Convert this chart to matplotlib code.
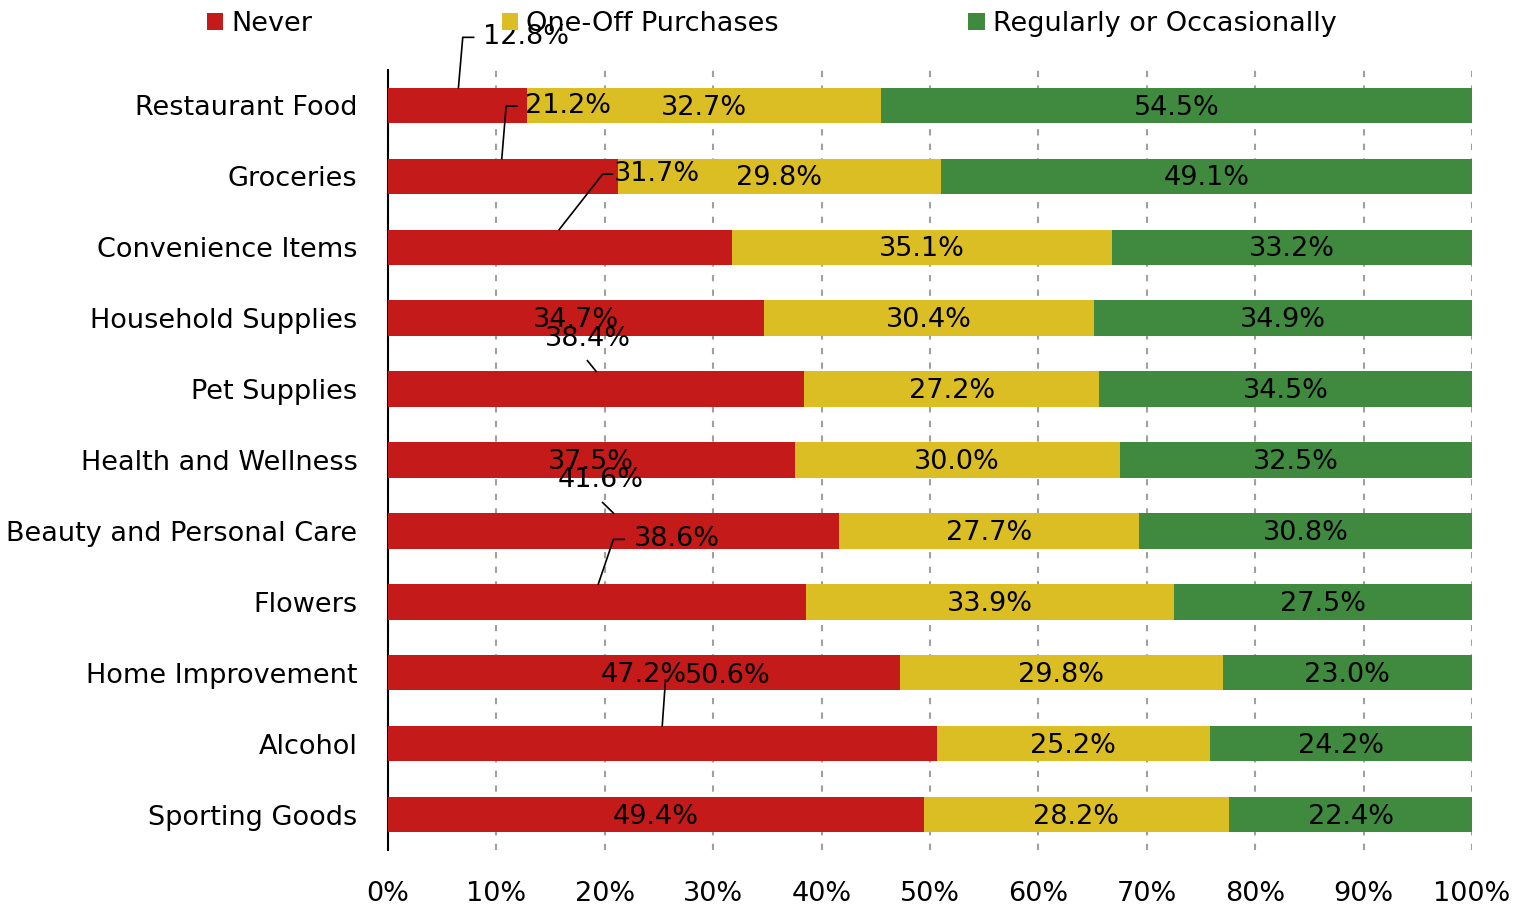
import matplotlib.pyplot as plt
import numpy as np
from matplotlib.ticker import PercentFormatter

# data
categories = ["Restaurant Food", "Groceries", "Convenience Items", "Household Supplies",
              "Pet Supplies", "Health and Wellness", "Beauty and Personal Care", "Flowers",
              "Home Improvement", "Alcohol", "Sporting Goods"]
never = [12.8, 21.2, 31.7, 34.7, 38.4, 37.5, 41.6, 38.6, 47.2, 50.6, 49.4]
one_off = [32.7, 29.8, 35.1, 30.4, 27.2, 30.0, 27.7, 33.9, 29.8, 25.2, 28.2]
regular = [54.5, 49.1, 33.2, 34.9, 34.5, 32.5, 30.8, 27.5, 23.0, 24.2, 22.4]
series_names = ["Never", "One-Off Purchases", "Regularly or Occasionally"]

colors = ["#C41A1A", "#DBBD24", "#408A40"]
fs = 19.5

plt.rcParams['font.family'] = ['DejaVu Sans']

fig = plt.figure(figsize=(15.28, 9.05), dpi=100)
ax = fig.add_axes([0.2539, 0.0608, 0.7095, 0.8619])

y = np.arange(len(categories))
never = np.array(never)
one_off = np.array(one_off)
regular = np.array(regular)

h = 0.5
b1 = ax.barh(y, never, height=h, color=colors[0], label=series_names[0], zorder=3)
b2 = ax.barh(y, one_off, left=never, height=h, color=colors[1], label=series_names[1], zorder=3)
b3 = ax.barh(y, regular, left=never + one_off, height=h, color=colors[2], label=series_names[2], zorder=3)

# centered labels for the two right series
for i in range(len(categories)):
    ax.text(never[i] + one_off[i] / 2, y[i] + 0.03, f"{one_off[i]:.1f}%", ha='center', va='center',
            fontsize=fs, zorder=5)
    ax.text(never[i] + one_off[i] + regular[i] / 2, y[i] + 0.03, f"{regular[i]:.1f}%", ha='center',
            va='center', fontsize=fs, zorder=5)

# "Never" labels: some moved off the bar with leader lines (as in the original export)
never_layout = {
    0: (8.8, -0.96, 'left', [(6.5, -0.25), (6.9, -0.96), (7.9, -0.96)]),
    1: (12.6, 0.01, 'left', [(10.5, 0.75), (10.9, 0.01), (11.9, 0.01)]),
    2: (20.8, 0.97, 'left', [(15.8, 1.75), (19.8, 0.97), (20.7, 0.97)]),
    4: (18.4, 3.3, 'center', [(19.2, 3.75), (18.4, 3.6)]),
    6: (19.6, 5.28, 'center', [(20.8, 5.75), (19.8, 5.6)]),
    7: (22.7, 6.12, 'left', [(19.4, 6.75), (20.8, 6.12), (21.8, 6.12)]),
    9: (27.4, 8.04, 'left', [(25.3, 8.75), (25.6, 8.1)]),
}
for i in range(len(categories)):
    if i in never_layout:
        lx, ly, ha, path = never_layout[i]
        ax.text(lx, ly, f"{never[i]:.1f}%", ha=ha, va='center', fontsize=fs, zorder=5,
                clip_on=False)
        px, py = zip(*path)
        ax.plot(px, py, color='black', lw=1.2, zorder=4, clip_on=False)
    else:
        ax.text(never[i] / 2, y[i] + 0.03, f"{never[i]:.1f}%", ha='center', va='center',
                fontsize=fs, zorder=5)

ax.set_xlim(0, 100)
ax.set_ylim(len(categories) - 0.5, -0.5)
ax.set_yticks(y)
ax.set_yticklabels(categories, fontsize=fs)
ax.set_xticks(np.arange(0, 101, 10))
ax.xaxis.set_major_formatter(PercentFormatter(decimals=0))
ax.tick_params(axis='x', labelsize=fs, length=0, pad=22)
ax.tick_params(axis='y', length=0, pad=22)

ax.grid(axis='x', color='#A0A0A0', linestyle=(0, (3, 4)), lw=1.5, zorder=0)
for s in ['top', 'right', 'bottom']:
    ax.spines[s].set_visible(False)
ax.spines['left'].set_linewidth(1.5)

fig.legend(handles=[b1, b2, b3], labels=series_names, loc='upper center',
           bbox_to_anchor=(0.505, 1.015), ncol=3, frameon=False, fontsize=fs,
           handlelength=0.6, handleheight=0.6, handletextpad=0.3, columnspacing=7.0)

fig.savefig("out.png", dpi=100)
